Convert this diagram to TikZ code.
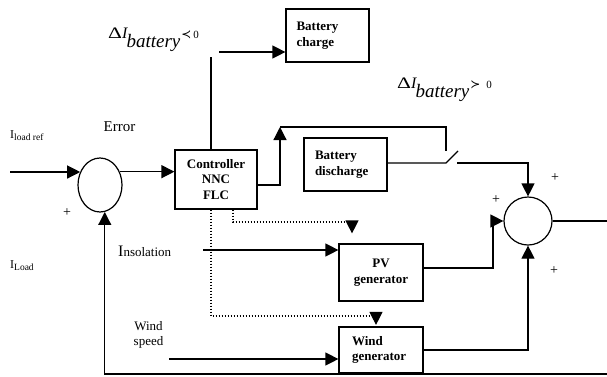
\documentclass[tikz,border=0pt]{standalone}
\usepackage{fontspec}
\usepackage{graphicx}
\setmainfont{Liberation Serif}
\newfontfamily\djv{DejaVu Sans}
\usetikzlibrary{arrows.meta,shapes.geometric}
\begin{document}
\begin{tikzpicture}[x=1pt,y=-1pt,
 ln/.style={line width=1.2pt},
 arr/.style={ln,-{Triangle[length=13pt,width=13pt]}},
 dotl/.style={line width=1.2pt,dash pattern=on 1.1pt off 1.9pt,-{Triangle[length=13pt,width=13pt]}},
 blk/.style={draw,line width=1.2pt,inner sep=0pt,font=\bfseries\fontsize{13}{15.5}\selectfont},
 lbl/.style={inner sep=0pt,font=\fontsize{13}{15}\selectfont},
 plus/.style={inner sep=0pt,font=\fontsize{14}{14}\selectfont}]
\useasboundingbox (0,0) rectangle (607,376);
% blocks
\node[blk,minimum width=83pt,minimum height=53pt,text width=62pt,align=left] (bcharge) at (327.5,35.5) {Battery\\charge};
\node[blk,minimum width=82pt,minimum height=59pt,align=center] (ctrl) at (216,179.5) {Controller\\NNC\\FLC};
\node[blk,minimum width=83pt,minimum height=53pt,text width=61pt,align=left] (bdis) at (345.5,164.5) {Battery\\discharge};
\node[blk,minimum width=84pt,minimum height=57pt,align=center] (pv) at (381,272.5) {PV\\generator};
\node[blk,minimum width=84pt,minimum height=46pt,text width=58pt,align=left] (wind) at (381,350) {Wind\\generator};
\node[ellipse,draw,ln,minimum width=44pt,minimum height=54pt,inner sep=0pt] (sum1) at (100,185) {};
\node[circle,draw,ln,minimum size=48pt,inner sep=0pt] (sum2) at (528,221) {};
% labels
\node[lbl,font=\fontsize{15}{15}\selectfont] (err) at (119.5,127) {Error};
\node[anchor=base west,inner sep=0pt] (iref) at (10,138) {\fontsize{12}{12}\selectfont I\fontsize{9.5}{9.5}\selectfont\raisebox{-2.5pt}{load ref}};
\node[anchor=base west,inner sep=0pt] (iload) at (10,268) {\fontsize{12}{12}\selectfont I\fontsize{9.5}{9.5}\selectfont\raisebox{-2.5pt}{Load}};
\node[anchor=base west,inner sep=0pt] (ins) at (118,256) {\fontsize{16}{16}\selectfont I\fontsize{13}{13}\selectfont nsolation};
\node[lbl,align=center] (ws) at (148.5,334.5) {Wind\\speed};
\node[anchor=base west,inner sep=0pt] (dneg) at (108,38) {\fontsize{16}{16}\selectfont\scalebox{1.35}[1]{Δ}\textit{I}\kern-1.5pt\raisebox{-9pt}{\fontsize{19}{19}\selectfont\textit{battery}}\kern1pt{\djv\fontsize{12}{12}\selectfont ≺}\kern2pt\fontsize{11}{11}\selectfont 0};
\node[anchor=base west,inner sep=0pt] (dpos) at (397,88) {\fontsize{16}{16}\selectfont\scalebox{1.35}[1]{Δ}\textit{I}\kern-1.5pt\raisebox{-9pt}{\fontsize{19}{19}\selectfont\textit{battery}}\kern1pt{\djv\fontsize{12}{12}\selectfont ≻}\kern6pt\fontsize{11}{11}\selectfont 0};
\node[plus] (p1) at (67,213) {+};
\node[plus] (p2) at (555,178) {+};
\node[plus] (p3) at (496,200) {+};
\node[plus] (p4) at (554,271) {+};
% coordinates
\coordinate (in) at (10,172);
\coordinate (s1) at (211,57);
\coordinate (s2) at (219,52);
\coordinate (c1) at (280,185);
\coordinate (c2) at (280,127);
\coordinate (c3) at (446,127);
\coordinate (c4) at (446,151);
\coordinate (w1) at (446,163);
\coordinate (w2) at (458,151);
\coordinate (w3) at (457,163);
\coordinate (w4) at (528,163);
\coordinate (pr) at (493,268);
\coordinate (ia) at (203,250);
\coordinate (wa) at (169,359);
\coordinate (out) at (607,221);
\coordinate (fbR) at (607,374);
\coordinate (d1) at (233,222);
\coordinate (d1e) at (352,222);
\coordinate (d2) at (211,316);
\coordinate (d2e) at (376,316);
% connectors
\draw[arr] (in) -- (in -| sum1.146);
\draw[arr] (sum1.34) -- (sum1.34 -| ctrl.west);
\draw[ln] (s1 |- ctrl.north) -- (s1);
\draw[arr] (s2) -- (s2 -| bcharge.west);
\draw[arr] (c1 -| ctrl.east) -- (c1) -- (c2);
\draw[ln] (c2) -- (c3) -- (c4);
\draw[ln] (bdis.east |- w1) -- (w1) -- (w2);
\draw[arr] (w3) -- (w4) -- (sum2.north);
\draw[arr] (pv.east |- pr) -- (pr) |- (sum2.west);
\draw[arr] (ia) -- (ia -| pv.west);
\draw[arr] (wa) -- (wa -| wind.west);
\draw[arr] (wind.east) -| (sum2.south);
\draw[ln] (sum2.east) -- (out);
\draw[arr] (fbR) -- (fbR -| sum1.-80) -- (sum1.-80);
\draw[dotl,shorten >=10pt] (d1 |- ctrl.south) -- (d1) -- (d1e) -- (d1e |- pv.north);
\draw[dotl,shorten >=1.5pt] (d2 |- ctrl.south) -- (d2) -- (d2e) -- (d2e |- wind.north);
\end{tikzpicture}
\end{document}
